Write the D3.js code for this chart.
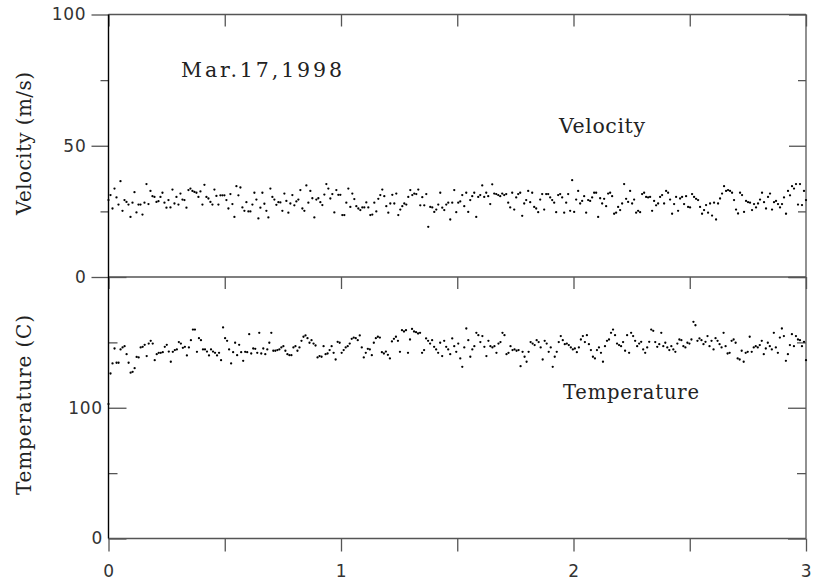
<!DOCTYPE html>
<html>
<head>
<meta charset="utf-8">
<script src="https://cdn.jsdelivr.net/npm/d3@7"></script>
<style>
  html, body { margin: 0; padding: 0; background: #fff; }
  svg { display: block; }
</style>
</head>
<body>
<div id="chart"></div>
<script>
// ---------------- DATA ----------------
const xTickValues = [0, 0.5, 1, 1.5, 2, 2.5, 3];
const velocityMajorTicks = [0, 50, 100];
const velocityMinorTicks = [25, 75];
const temperatureMajorTicks = [0, 100, 200];
const temperatureMinorTicks = [50, 150];
const temperatureTickLabels = ["0", "100", ""];
const dateLabel = "Mar.17,1998";
const velocityLabel = "Velocity";
const temperatureLabel = "Temperature";
const velocityAxisTitle = "Velocity (m/s)";
const temperatureAxisTitle = "Temperature (C)";
const timeStart = 0, timeEnd = 3;

const velocity = [
29.3,31.2,26.1,33.7,30.3,27.6,36.5,25.2,29.3,28.6,
27.6,22.9,28.3,32.3,24.6,27.6,27.6,23.8,28.3,35.4,
27.8,32.8,30.8,30.5,28.6,28.9,30.5,32.1,28.3,26.4,
29.3,26.5,33.3,28.0,30.5,27.6,31.8,29.5,29.3,26.4,
33.1,33.7,32.8,32.4,32.1,30.5,32.6,27.6,35.1,30.5,
29.9,28.6,27.6,33.3,30.9,27.6,31.1,31.1,31.1,29.3,
26.1,31.6,27.8,22.9,34.6,31.1,34.1,26.5,25.2,28.5,
25.0,25.0,27.6,32.1,29.5,22.3,26.4,32.1,27.9,25.2,
22.7,33.7,30.5,29.5,27.5,28.5,28.4,25.2,31.8,29.0,
24.5,28.0,31.2,27.3,28.8,29.5,33.1,26.1,25.2,34.9,
28.3,32.8,30.0,22.7,29.5,30.0,28.5,27.4,31.4,35.4,
33.7,29.9,31.6,24.6,33.1,31.3,31.3,23.6,23.6,28.3,
33.7,26.7,31.8,29.7,27.0,26.1,25.5,26.5,26.5,28.4,
26.5,23.6,23.8,28.3,25.0,29.8,31.2,33.3,30.8,27.0,
24.5,28.0,31.3,28.0,31.8,23.6,25.7,27.0,28.0,27.6,
30.5,33.1,31.2,31.8,31.6,33.3,27.3,30.4,27.3,31.6,
19.1,26.7,26.5,24.8,25.7,27.6,32.1,26.4,25.5,27.6,
28.3,21.9,28.3,33.1,24.7,28.3,28.8,
31.2,27.0,32.1,24.8,29.3,30.8,32.1,22.9,30.5,31.2,
34.9,30.5,32.1,30.8,27.8,35.3,31.8,31.6,31.2,30.8,
31.8,31.2,31.6,28.3,26.5,32.1,25.7,30.3,31.6,32.1,
23.3,28.0,29.3,32.8,28.5,32.1,26.7,26.1,24.7,29.5,
31.6,25.7,31.6,31.6,30.3,29.3,28.3,24.7,31.2,31.6,
30.3,24.5,28.3,31.6,25.2,36.9,24.8,29.5,32.8,28.0,
29.0,30.8,24.5,29.3,29.0,30.3,32.1,32.1,22.9,30.0,
28.0,29.8,27.0,31.8,32.1,30.8,24.1,24.5,26.7,25.5,
28.0,35.4,29.8,28.6,32.8,28.0,29.5,24.5,25.2,24.7,
31.6,32.1,30.5,30.3,30.5,25.2,29.0,27.3,28.0,30.5,
31.2,28.0,32.8,32.1,29.5,24.1,27.8,30.5,25.2,29.9,
30.5,27.8,30.8,26.7,26.5,31.6,30.5,29.8,29.3,26.7,
24.1,25.5,27.4,24.5,28.0,23.4,28.3,21.9,28.0,29.9,
31.8,34.6,32.8,33.1,32.8,32.1,29.3,25.7,24.2,32.1,
31.2,24.8,29.0,28.5,28.3,25.5,27.8,26.5,28.0,29.5,
32.1,28.5,26.1,30.5,31.8,25.7,28.5,29.0,27.8,26.5,
27.8,30.3,24.1,32.8,31.1,34.6,33.7,35.4,27.6,35.4,
27.4,32.8,29.3
];

const temperature = [
102.8,
126.2,133.9,145.3,134.4,134.4,144.6,146.1,147.1,141.0,134.4,
126.8,127.5,130.3,138.9,138.5,146.1,146.6,148.1,139.5,149.1,
151.2,149.1,136.4,141.0,142.0,142.0,142.5,146.6,148.1,143.0,
135.2,142.8,144.1,144.6,150.2,149.1,145.8,146.6,140.0,146.1,
151.7,159.8,159.8,142.8,153.2,151.7,144.6,144.6,143.0,140.0,
144.6,143.0,142.0,140.0,142.0,136.4,161.4,153.2,151.2,144.6,
133.9,142.5,149.7,140.2,148.1,142.5,135.9,142.8,142.5,156.3,
141.5,145.3,145.1,142.0,157.3,141.5,145.3,141.0,144.6,149.7,
157.3,143.6,143.6,144.1,144.6,146.1,147.1,143.6,141.0,140.2,
140.2,146.1,147.1,143.6,146.1,151.2,154.3,155.3,153.2,149.7,
151.7,149.1,147.6,138.5,139.5,139.0,147.1,141.0,141.5,144.1,
147.1,142.0,136.9,150.4,149.7,142.0,144.1,146.1,147.1,149.1,
152.7,153.7,153.2,151.7,155.3,146.1,138.5,142.0,145.1,144.6,
140.2,149.7,153.2,154.3,153.7,142.5,141.5,143.0,140.5,137.7,
150.7,152.7,154.3,151.2,142.8,159.3,158.3,159.3,142.0,152.2,
160.3,158.3,157.8,156.8,157.3,142.0,144.1,153.0,151.2,149.1,
151.7,146.6,144.6,142.0,149.7,139.5,151.2,146.6,144.6,141.0,
153.0,147.1,142.8,
149.1,137.7,131.3,146.1,160.6,151.7,139.0,144.6,147.1,157.3,
155.5,150.2,154.8,146.6,139.5,151.2,147.1,146.1,147.1,142.0,
149.1,150.2,157.3,155.5,141.0,142.0,147.1,144.1,144.6,143.6,
144.1,131.8,142.8,139.0,135.2,142.8,150.2,149.1,147.9,151.7,
150.2,146.1,136.9,151.2,149.1,142.8,146.1,131.3,139.0,142.8,
150.2,154.8,151.7,148.6,149.1,147.9,146.1,144.6,145.3,142.5,
146.1,152.2,154.8,150.2,155.5,148.6,144.1,139.0,137.7,144.1,
146.1,142.0,135.2,147.1,151.2,152.2,157.3,159.8,155.5,149.1,
147.9,147.1,150.2,143.6,155.5,142.0,157.3,154.8,151.2,147.1,
149.1,150.4,144.6,142.0,146.1,150.4,159.8,158.8,150.2,146.6,
148.6,157.3,147.1,149.7,146.1,144.1,147.1,144.6,142.8,149.1,
152.2,151.7,147.1,146.1,149.7,149.1,152.2,165.7,163.1,151.2,
153.0,151.7,148.6,150.4,154.8,147.1,151.2,144.6,153.2,151.2,
148.6,146.1,157.3,147.1,141.5,142.0,151.2,152.2,149.7,137.7,
136.9,143.6,135.2,142.0,142.8,154.3,142.8,146.1,147.1,146.1,
147.9,151.2,141.0,145.3,149.7,147.1,144.6,157.3,146.1,142.0,
153.7,160.6,154.8,135.9,141.0,147.9,156.3,147.1,154.8,152.2,
151.7,147.1,150.4,136.4
];

// ---------------- CHART ----------------
const W = 815, H = 584;
const L = 108.5, R = 806, T = 14.5, M = 277, B = 538.5;
const frameColor = "#555";
const labelColor = "#333";

const svg = d3.select("#chart").append("svg")
  .attr("width", W).attr("height", H)
  .attr("viewBox", `0 0 ${W} ${H}`);
svg.append("rect").attr("width", W).attr("height", H).attr("fill", "#fff");

const x = d3.scaleLinear().domain([timeStart, timeEnd]).range([L, R]);
const yV = d3.scaleLinear().domain([0, 100]).range([M, T]);
const yT = d3.scaleLinear().domain([0, 200]).range([B, M]);

const timeOf = arr => arr.map((_, i) => timeStart + i * (timeEnd - timeStart) / (arr.length - 1));
const tV = timeOf(velocity);
const tT = timeOf(temperature);

function addAxis(axis, tx, ty) {
  const g = svg.append("g").attr("transform", `translate(${tx},${ty})`).call(axis);
  g.select(".domain").remove();
  g.selectAll("line").attr("stroke", frameColor).attr("stroke-width", 1.3);
  g.selectAll("text")
    .attr("font-family", "'DejaVu Sans', sans-serif")
    .attr("font-size", 17)
    .attr("letter-spacing", 0.8)
    .attr("fill", labelColor);
  return g;
}

// Top panel (velocity)
addAxis(d3.axisLeft(yV).tickValues(velocityMajorTicks).tickSize(17).tickPadding(5).tickFormat(d3.format("d")), L, 0);
addAxis(d3.axisLeft(yV).tickValues(velocityMinorTicks).tickSize(8).tickFormat(""), L, 0);
addAxis(d3.axisRight(yV).tickValues(velocityMajorTicks).tickSize(-17).tickFormat(""), R, 0);
addAxis(d3.axisRight(yV).tickValues(velocityMinorTicks).tickSize(-8).tickFormat(""), R, 0);
addAxis(d3.axisTop(x).tickValues(xTickValues).tickSize(-12).tickFormat(""), 0, T);

// Bottom panel (temperature)
addAxis(d3.axisLeft(yT).tickValues(temperatureMajorTicks).tickSize(-18).tickPadding(5.5)
  .tickFormat((d, i) => temperatureTickLabels[i]), L, 0);
addAxis(d3.axisLeft(yT).tickValues(temperatureMinorTicks).tickSize(-9).tickFormat(""), L, 0);
addAxis(d3.axisRight(yT).tickValues(temperatureMajorTicks).tickSize(-18).tickFormat(""), R, 0);
addAxis(d3.axisRight(yT).tickValues(temperatureMinorTicks).tickSize(-9).tickFormat(""), R, 0);
addAxis(d3.axisTop(x).tickValues(xTickValues).tickSize(-12).tickFormat(""), 0, M);
addAxis(d3.axisBottom(x).tickValues(xTickValues).tickSize(13).tickPadding(13)
  .tickFormat(d => Number.isInteger(d) ? String(d) : ""), 0, B);

// Frame
const frame = svg.append("g").attr("fill", "none");
[[L, T, R, T], [L, M, R, M], [L, B, R, B], [R, T, R, B]].forEach(([x1, y1, x2, y2]) => {
  frame.append("line").attr("x1", x1).attr("y1", y1).attr("x2", x2).attr("y2", y2)
    .attr("stroke", frameColor).attr("stroke-width", 1.3);
});
frame.append("line").attr("x1", L).attr("y1", T).attr("x2", L).attr("y2", B)
  .attr("stroke", "#000").attr("stroke-width", 1.4);

// Data points
svg.append("g").selectAll("circle").data(velocity).join("circle")
  .attr("cx", (d, i) => x(tV[i])).attr("cy", d => yV(d)).attr("r", 1.15).attr("fill", "#000");
svg.append("g").selectAll("circle").data(temperature).join("circle")
  .attr("cx", (d, i) => x(tT[i])).attr("cy", d => yT(d)).attr("r", 1.15).attr("fill", "#000");

// Text labels (serif, tightly spaced like the original)
const serif = "'DejaVu Serif', 'Liberation Serif', serif";
function addText(str, px, py, size, len, rotate) {
  const t = svg.append("text")
    .attr("font-family", serif).attr("font-size", size).attr("fill", "#222")
    .attr("textLength", len).attr("lengthAdjust", "spacing")
    .text(str);
  if (rotate) {
    t.attr("text-anchor", "middle").attr("transform", `translate(${px},${py}) rotate(-90)`);
  } else {
    t.attr("x", px).attr("y", py);
  }
  return t;
}
addText(dateLabel, 181, 77, 20.5, 161, false);
addText(velocityLabel, 559, 133, 20.5, 86, false);
addText(temperatureLabel, 563, 399, 19.5, 136, false);
addText(velocityAxisTitle, 31, 143.5, 20, 143, true);
addText(temperatureAxisTitle, 31, 405, 20, 180, true);
</script>
</body>
</html>
